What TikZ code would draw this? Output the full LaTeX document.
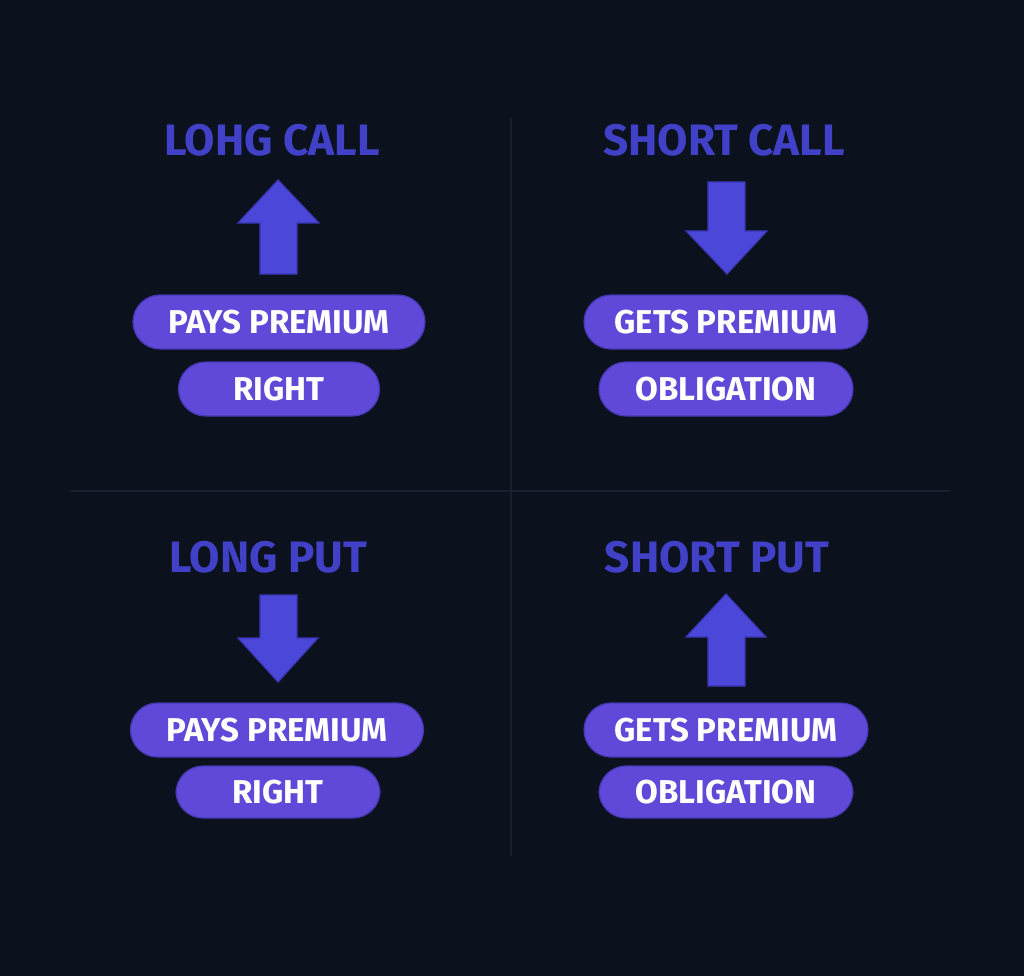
\documentclass[tikz,border=0pt]{standalone}
\usepackage{fontspec}
\setmainfont{Fira Sans}
\usepackage{tikz}
\usetikzlibrary{positioning}
\definecolor{bgdark}{HTML}{0B111D}
\definecolor{gridline}{HTML}{182030}
\definecolor{titleblue}{HTML}{4141C8}
\definecolor{arrowblue}{HTML}{4B47D9}
\definecolor{arrowedge}{HTML}{3B37B5}
\definecolor{pillfill}{HTML}{6049D8}
\definecolor{pilledge}{HTML}{4637B2}
\tikzset{
  title/.style={text=titleblue,font=\fontsize{44}{46}\selectfont\bfseries},
  pill/.style={fill=pillfill,draw=pilledge,line width=1.2pt,rounded corners=27pt,
    minimum height=54pt,text=white,font=\fontsize{33}{35}\selectfont\bfseries,inner sep=0pt},
  bigarrow/.style={fill=arrowblue,draw=arrowedge,line width=1.2pt,line join=miter}
}
\begin{document}
\begin{tikzpicture}[x=1pt,y=-1pt]
        \fill[bgdark] (0,0) rectangle (1024,976);
        \useasboundingbox (0,0) rectangle (1024,976);
        \draw[gridline,line width=1.5pt] (511,118)--(511,856);
        \draw[gridline,line width=1.5pt] (70,491)--(950,491);
        % long call
        \node[title] (lctitle) at (272,140) {LOHG CALL};
        \draw[bigarrow] (278,180)--(319,223)--(297,223)--(297,274)--(260,274)--(260,223)--(238,223)--cycle;
        \node[pill,minimum width=292pt] (lcprem) at (279,322) {PAYS PREMIUM};
        \node[pill,minimum width=201pt] (lcright) at (279,389) {RIGHT};
        % short call
        \node[title] (sctitle) at (724,140) {SHORT CALL};
        \draw[bigarrow] (727,274)--(767,231)--(745,231)--(745,182)--(708,182)--(708,231)--(686,231)--cycle;
        \node[pill,minimum width=284pt] (scprem) at (726,322) {GETS PREMIUM};
        \node[pill,minimum width=254pt] (scoblig) at (726,389) {OBLIGATION};
        % long put
        \node[title] (lptitle) at (268,557) {LONG PUT};
        \draw[bigarrow] (278,682)--(318,638)--(297,638)--(297,595)--(260,595)--(260,638)--(238,638)--cycle;
        \node[pill,minimum width=293pt] (lpprem) at (277,730) {PAYS PREMIUM};
        \node[pill,minimum width=204pt,minimum height=52pt] (lpright) at (278,792) {RIGHT};
        % short put
        \node[title] (sptitle) at (717,557) {SHORT PUT};
        \draw[bigarrow] (726,594)--(766,637)--(745,637)--(745,686)--(708,686)--(708,637)--(686,637)--cycle;
        \node[pill,minimum width=284pt] (spprem) at (726,730) {GETS PREMIUM};
        \node[pill,minimum width=254pt,minimum height=52pt] (spoblig) at (726,792) {OBLIGATION};
    \end{tikzpicture}
\end{document}
